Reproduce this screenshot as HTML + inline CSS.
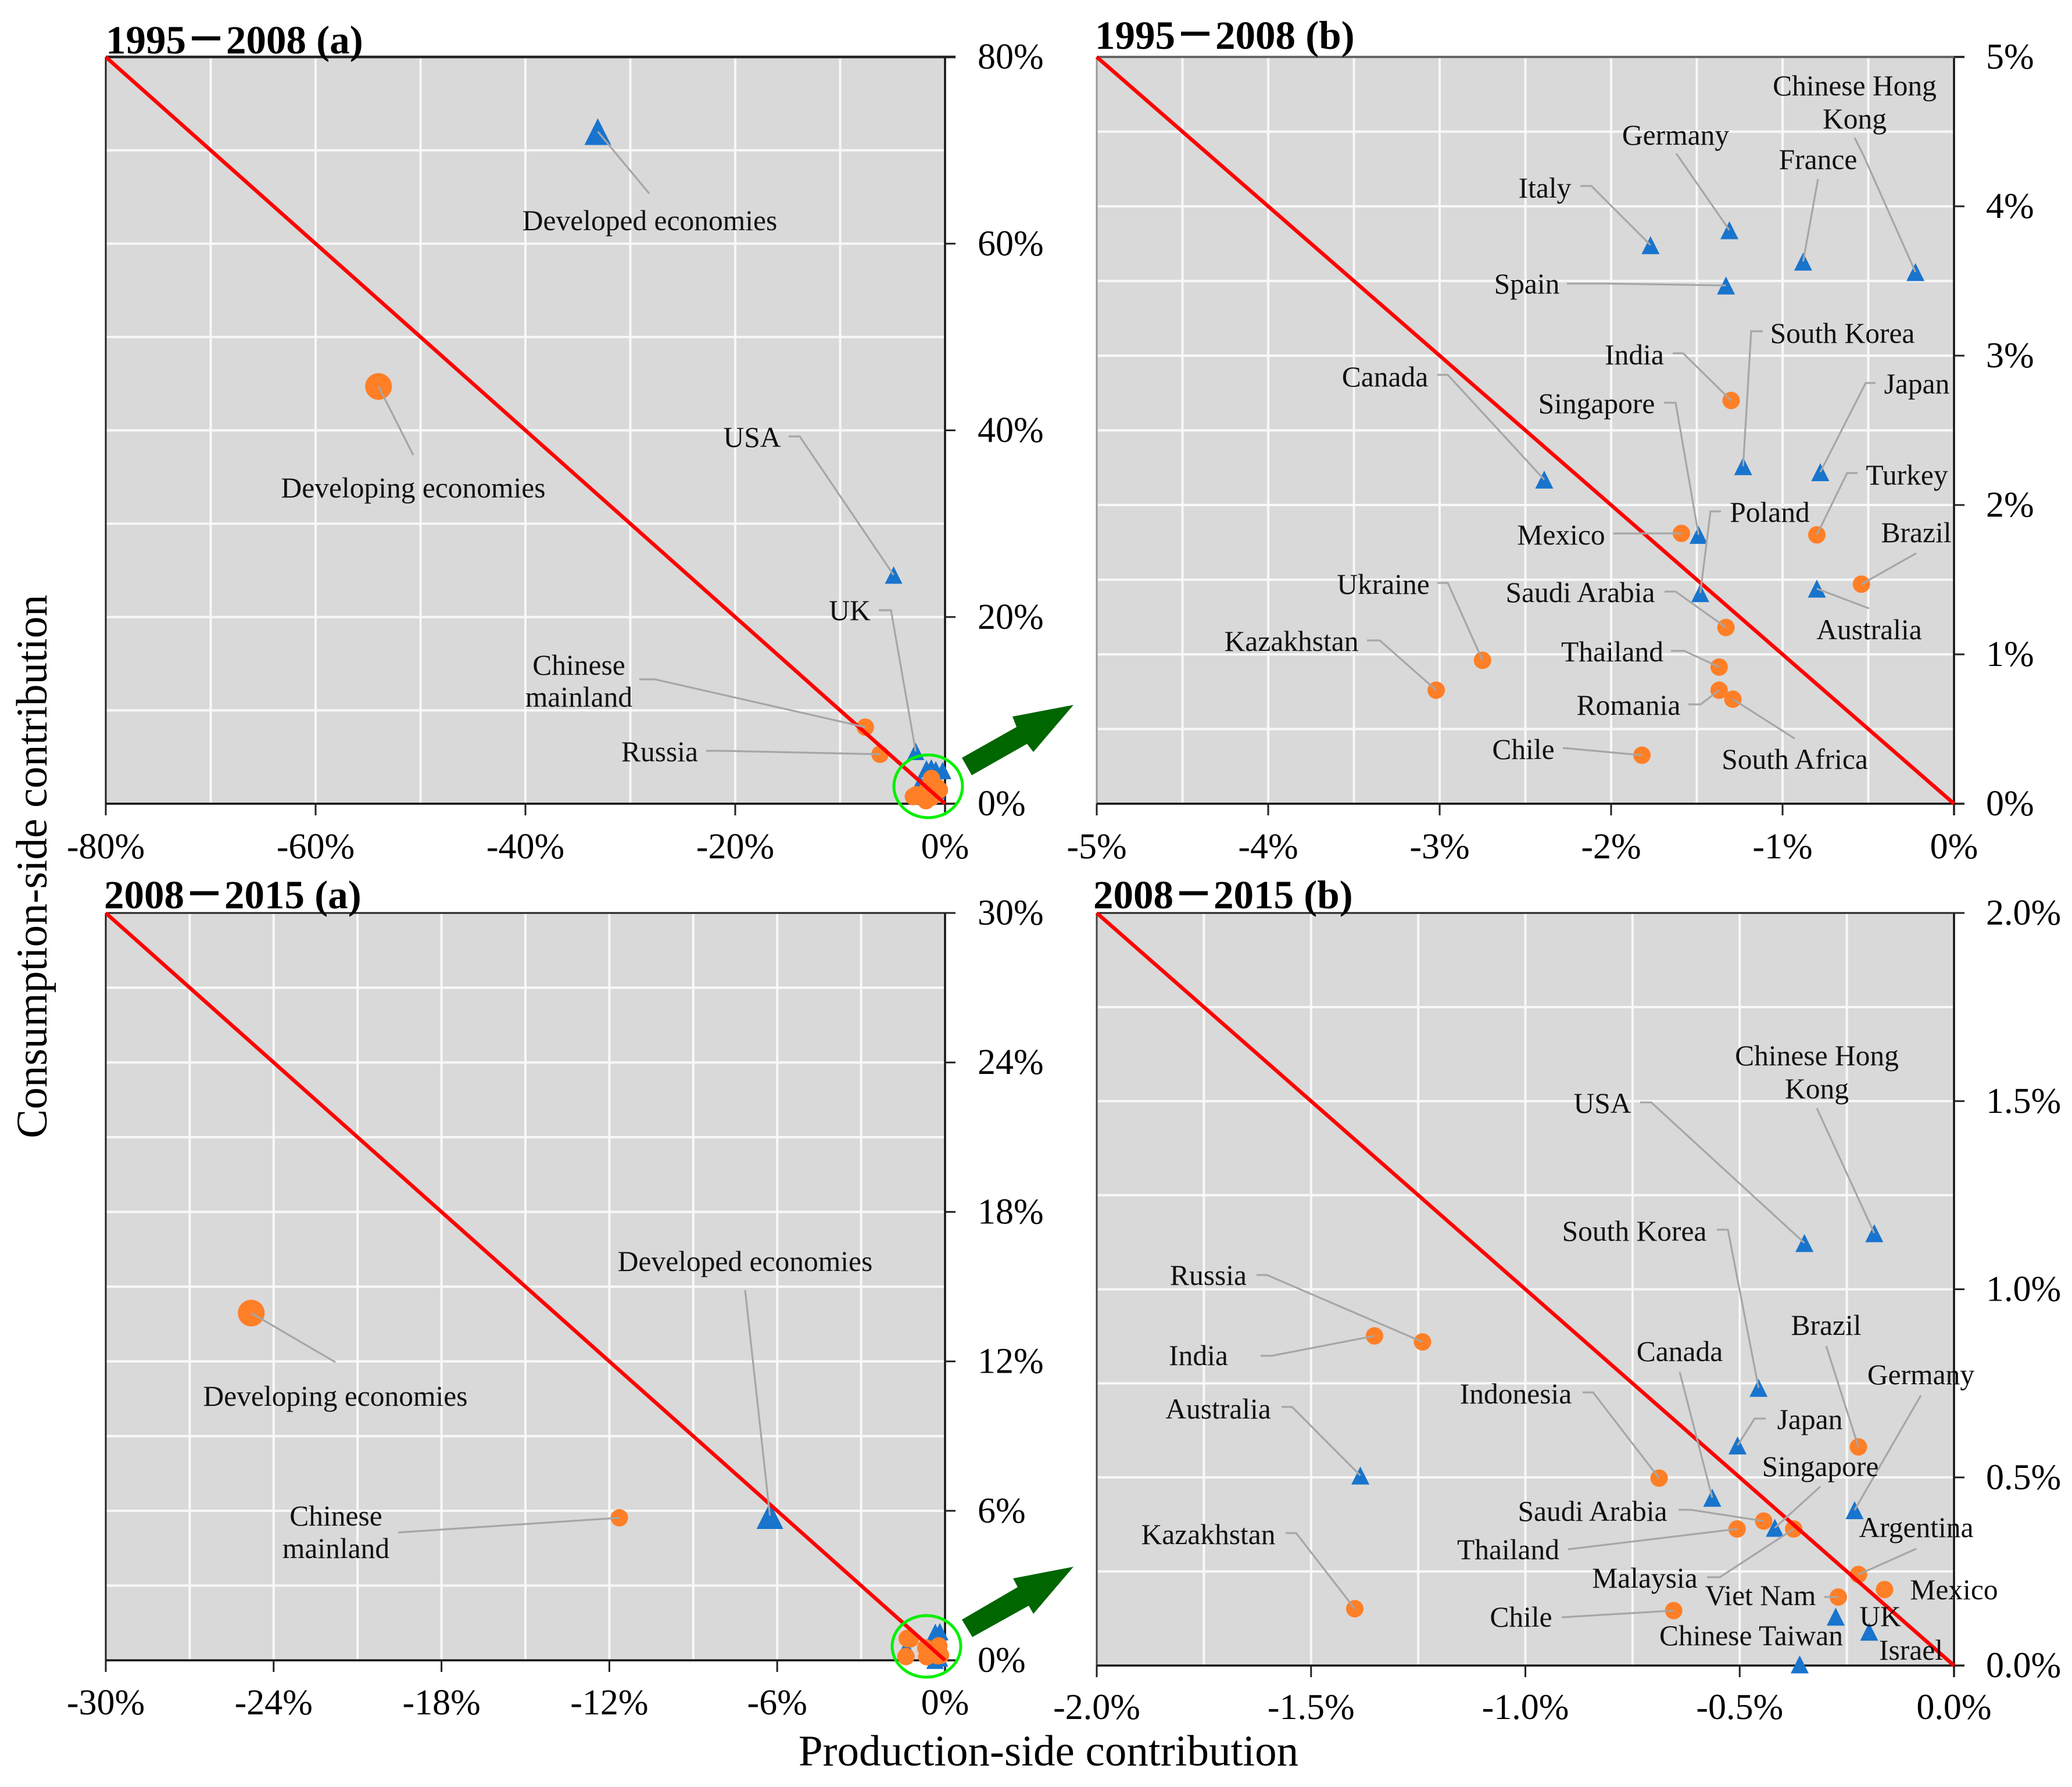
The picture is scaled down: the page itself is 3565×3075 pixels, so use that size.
<!DOCTYPE html>
<html lang="en">
<head>
<meta charset="utf-8">
<title>Production-side and consumption-side contribution</title>
<style>
html,body{margin:0;padding:0;background:#fff;width:3565px;height:3075px;overflow:hidden}
svg{display:block}
text{font-family:"Liberation Serif","Noto Serif CJK SC",serif;fill:#000}
.tick{font-size:62px}
.lab{font-size:49.5px;fill:#111}
.ttl{font-size:69px;font-weight:700}
.dash{font-family:"Noto Sans CJK SC","Liberation Sans",sans-serif;font-weight:700}
.axt{font-size:75px}
</style>
</head>
<body>
<svg id="chart" xmlns="http://www.w3.org/2000/svg" width="3565" height="3075" viewBox="0 0 3565 3075">
  <rect x="0" y="0" width="3565" height="3075" fill="#ffffff"/>
  <text class="axt" transform="translate(80 1491) rotate(-90)" text-anchor="middle">Consumption-side contribution</text>
  <text class="axt" x="1804" y="3038" text-anchor="middle">Production-side contribution</text>
</svg>
<script>
// ---- Chart data (values in percent) ----
const ticks95a = [-80, -60, -40, -20, 0];
const ticks95aY = [0, 20, 40, 60, 80];
const ticks95b = [-5, -4, -3, -2, -1, 0];
const ticks95bY = [0, 1, 2, 3, 4, 5];
const ticks08a = [-30, -24, -18, -12, -6, 0];
const ticks08aY = [0, 6, 12, 18, 24, 30];
const ticks08b = [-2, -1.5, -1, -0.5, 0];
const ticks08bY = [0, 0.5, 1, 1.5, 2];

const a95DevelopedNames = ['Developed economies', 'USA', 'UK'];
const a95DevelopedX = [-33.1, -4.9, -2.8];
const a95DevelopedY = [72, 24.5, 5.6];
const a95DevelopingNames = ['Developing economies', 'Chinese mainland', 'Russia'];
const a95DevelopingX = [-54, -7.6, -6.2];
const a95DevelopingY = [44.7, 8.2, 5.3];

const b95DevelopedNames = ['Italy', 'Germany', 'France', 'Chinese Hong Kong', 'Spain', 'South Korea', 'Japan', 'Canada', 'Singapore', 'Poland', 'Australia'];
const b95DevelopedX = [-1.77, -1.31, -0.88, -0.225, -1.33, -1.23, -0.78, -2.39, -1.49, -1.48, -0.8];
const b95DevelopedY = [3.74, 3.84, 3.63, 3.56, 3.47, 2.26, 2.22, 2.17, 1.8, 1.41, 1.44];
const b95DevelopingNames = ['India', 'Mexico', 'Turkey', 'Brazil', 'Saudi Arabia', 'Ukraine', 'Thailand', 'Romania', 'South Africa', 'Kazakhstan', 'Chile'];
const b95DevelopingX = [-1.3, -1.59, -0.8, -0.54, -1.33, -2.75, -1.37, -1.37, -1.29, -3.02, -1.82];
const b95DevelopingY = [2.7, 1.81, 1.8, 1.47, 1.18, 0.96, 0.915, 0.76, 0.7, 0.76, 0.325];

const a08DevelopedNames = ['Developed economies'];
const a08DevelopedX = [-6.26];
const a08DevelopedY = [5.81];
const a08DevelopingNames = ['Developing economies', 'Chinese mainland'];
const a08DevelopingX = [-24.8, -11.64];
const a08DevelopingY = [13.94, 5.72];

const b08DevelopedNames = ['Chinese Hong Kong', 'USA', 'South Korea', 'Japan', 'Australia', 'Canada', 'Germany', 'Singapore', 'UK', 'Israel', 'Chinese Taiwan'];
const b08DevelopedX = [-0.186, -0.349, -0.456, -0.505, -1.385, -0.564, -0.232, -0.418, -0.276, -0.198, -0.36];
const b08DevelopedY = [1.149, 1.123, 0.738, 0.585, 0.505, 0.446, 0.413, 0.366, 0.13, 0.09, 0.003];
const b08DevelopingNames = ['Russia', 'India', 'Brazil', 'Indonesia', 'Saudi Arabia', 'Thailand', 'Malaysia', 'Argentina', 'Mexico', 'Viet Nam', 'Kazakhstan', 'Chile'];
const b08DevelopingX = [-1.24, -1.352, -0.223, -0.688, -0.444, -0.506, -0.374, -0.223, -0.162, -0.27, -1.398, -0.654];
const b08DevelopingY = [0.86, 0.876, 0.581, 0.498, 0.384, 0.363, 0.363, 0.242, 0.202, 0.182, 0.151, 0.146];

// ---- Rendering helpers ----
const svg = document.getElementById('chart');
const NS = 'http://www.w3.org/2000/svg';
const aggregateNames = ['Developed economies', 'Developing economies'];

function slug(s) {
  return String(s).toLowerCase().replace(/[^a-z0-9.]+/g, '-');
}
function make(parent, tag, attrs, name) {
  const el = document.createElementNS(NS, tag);
  for (const k in attrs) el.setAttribute(k, attrs[k]);
  
  
  parent.appendChild(el);
  return el;
}
function makeText(parent, cls, x, y, anchor, str, name) {
  const t = make(parent, 'text', { class: cls, x: x, y: y, 'text-anchor': anchor }, name);
  t.textContent = str;
  return t;
}
function xScale(p, v) { return p.right + (v / p.span) * (p.right - p.left); }
function yScale(p, v) { return p.bottom - (v / p.span) * (p.bottom - p.top); }

function drawPanel(p) {
  const g = make(svg, 'g', {}, 'panel-' + p.id);
  make(g, 'rect', { x: p.left, y: p.top, width: p.right - p.left, height: p.bottom - p.top, fill: '#d9d9d9' }, 'plot-area-' + p.id);
  // white gridlines at major ticks and at half-steps between them
  const step = p.xTicks[1] - p.xTicks[0];
  for (let i = 0; i < p.xTicks.length - 1; i++) {
    [p.xTicks[i], p.xTicks[i] + step / 2].forEach(function (v) {
      if (v === p.xTicks[0]) return;
      const x = xScale(p, v);
      make(g, 'line', { x1: x, x2: x, y1: p.top, y2: p.bottom, stroke: '#f8f8f8', 'stroke-width': 4 }, 'vertical-gridline');
    });
  }
  const yStep = p.yTicks[1] - p.yTicks[0];
  for (let i = 0; i < p.yTicks.length - 1; i++) {
    [p.yTicks[i], p.yTicks[i] + yStep / 2].forEach(function (v) {
      if (v === 0) return;
      const y = yScale(p, v);
      make(g, 'line', { x1: p.left, x2: p.right, y1: y, y2: y, stroke: '#f8f8f8', 'stroke-width': 4 }, 'horizontal-gridline');
    });
  }
  // axes
  make(g, 'line', { x1: p.left, x2: p.left, y1: p.top, y2: p.bottom + 20, stroke: p.leftColor, 'stroke-width': 3 }, 'left-axis-line');
  make(g, 'line', { x1: p.right, x2: p.right, y1: p.top, y2: p.bottom + 20, stroke: '#111', 'stroke-width': 3.5 }, 'right-axis-line');
  make(g, 'line', { x1: p.left, x2: p.right + 18, y1: p.top, y2: p.top, stroke: p.topColor, 'stroke-width': p.topWidth }, 'top-axis-line');
  make(g, 'line', { x1: p.left, x2: p.right + 18, y1: p.bottom, y2: p.bottom, stroke: '#111', 'stroke-width': 3.5 }, 'bottom-axis-line');
  // ticks and tick labels
  p.xTicks.forEach(function (v) {
    const x = xScale(p, v);
    make(g, 'line', { x1: x, x2: x, y1: p.bottom, y2: p.bottom + 20, stroke: '#222', 'stroke-width': 3 }, 'x-tick');
    makeText(g, 'tick', x, p.bottom + p.xLabelDy, 'middle', v.toFixed(p.digits) + '%', 'x-tick-label');
  });
  p.yTicks.forEach(function (v) {
    const y = yScale(p, v);
    make(g, 'line', { x1: p.right, x2: p.right + 18, y1: y, y2: y, stroke: '#222', 'stroke-width': 3 }, 'y-tick');
    makeText(g, 'tick', p.yLabelX, y + 20, 'start', v.toFixed(p.digits) + '%', 'y-tick-label');
  });
  p.pos = {};
  p.g = g;
  // panel title: years joined by a heavy full-width dash
  const title = makeText(g, 'ttl', p.titleX, p.titleY, 'start', p.yearFrom, 'panel-title-' + p.id);
  const dash = make(title, 'tspan', { class: 'dash' }, 'panel-title-dash');
  dash.textContent = '－';
  title.appendChild(document.createTextNode(p.yearTo + ' ' + p.suffix));
}

function triangles(p, names, xs, ys, small, big) {
  names.forEach(function (n, i) {
    const x = xScale(p, xs[i]);
    const y = yScale(p, ys[i]);
    const s = aggregateNames.indexOf(n) >= 0 ? big : small;
    p.pos[n] = [x, y];
    make(p.g, 'polygon', { points: (x - s / 2) + ',' + (y + s / 2) + ' ' + x + ',' + (y - s / 2) + ' ' + (x + s / 2) + ',' + (y + s / 2), fill: '#1874cd' }, 'developed-marker-' + slug(n));
  });
}
function circles(p, names, xs, ys, small, big) {
  names.forEach(function (n, i) {
    const x = xScale(p, xs[i]);
    const y = yScale(p, ys[i]);
    const r = aggregateNames.indexOf(n) >= 0 ? big : small;
    p.pos[n] = [x, y];
    make(p.g, 'circle', { cx: x, cy: y, r: r, fill: '#ff7f27' }, 'developing-marker-' + slug(n));
  });
}
function redLine(p) {
  make(p.g, 'line', { x1: xScale(p, -p.span), y1: yScale(p, p.span), x2: xScale(p, 0), y2: yScale(p, 0), stroke: '#ff0000', 'stroke-width': 6.5 }, 'equal-contribution-line');
}
// annotate: label text (one line or two) at a page position, leader running through given bends to the named point
function annotate(p, name, lines, cx, base, route) {
  if (route) {
    const pt = p.pos[name];
    const pts = route.concat([pt]).map(function (q) { return q[0] + ',' + q[1]; }).join(' ');
    make(p.g, 'polyline', { points: pts, fill: 'none', stroke: '#a6a6a6', 'stroke-width': 3.2 }, 'leader-line-' + slug(name));
  }
  lines.forEach(function (l, i) {
    makeText(p.g, 'lab', cx, base[i], 'middle', l, 'label-' + slug(l));
  });
}

// ---- Panels ----
const panelA = { id: '1995-2008-a', yearFrom: '1995', yearTo: '2008', suffix: '(a)', titleX: 182, titleY: 92, left: 182, right: 1626, top: 98, bottom: 1383, span: 80, xTicks: ticks95a, yTicks: ticks95aY, digits: 0, xLabelDy: 94, yLabelX: 1682, topColor: '#222', topWidth: 4.5, leftColor: '#222' };
const panelB = { id: '1995-2008-b', yearFrom: '1995', yearTo: '2008', suffix: '(b)', titleX: 1884, titleY: 84, left: 1887, right: 3362, top: 98, bottom: 1383, span: 5, xTicks: ticks95b, yTicks: ticks95bY, digits: 0, xLabelDy: 94, yLabelX: 3417, topColor: '#666', topWidth: 4, leftColor: '#999' };
const panelC = { id: '2008-2015-a', yearFrom: '2008', yearTo: '2015', suffix: '(a)', titleX: 179, titleY: 1563, left: 182, right: 1626, top: 1571, bottom: 2857, span: 30, xTicks: ticks08a, yTicks: ticks08aY, digits: 0, xLabelDy: 93, yLabelX: 1682, topColor: '#222', topWidth: 3, leftColor: '#222' };
const panelD = { id: '2008-2015-b', yearFrom: '2008', yearTo: '2015', suffix: '(b)', titleX: 1881, titleY: 1563, left: 1887, right: 3362, top: 1571, bottom: 2866, span: 2, xTicks: ticks08b, yTicks: ticks08bY, digits: 1, xLabelDy: 92, yLabelX: 3417, topColor: '#222', topWidth: 3, leftColor: '#444' };

[panelA, panelB, panelC, panelD].forEach(drawPanel);

// Panel (a) 1995-2008: aggregates and large economies, plus the zoomed-in economies clustered at the origin
triangles(panelA, a95DevelopedNames, a95DevelopedX, a95DevelopedY, 30, 46);
triangles(panelA, b95DevelopedNames, b95DevelopedX, b95DevelopedY, 30, 46);
circles(panelA, b95DevelopingNames, b95DevelopingX, b95DevelopingY, 15, 23);
circles(panelA, a95DevelopingNames, a95DevelopingX, a95DevelopingY, 15, 23);
redLine(panelA);
annotate(panelA, 'Developed economies', ['Developed economies'], 1118, [396], [[1117, 333]]);
annotate(panelA, 'Developing economies', ['Developing economies'], 711, [856], [[711, 783]]);
annotate(panelA, 'USA', ['USA'], 1294, [769], [[1357, 751], [1376, 751]]);
annotate(panelA, 'UK', ['UK'], 1462, [1067], [[1512, 1050], [1533, 1050]]);
annotate(panelA, 'Chinese mainland', ['Chinese', 'mainland'], 996, [1161, 1216], [[1100, 1169], [1127, 1169]]);
annotate(panelA, 'Russia', ['Russia'], 1135, [1310], [[1215, 1292], [1242, 1292]]);

// Panel (b) 1995-2008
triangles(panelB, b95DevelopedNames, b95DevelopedX, b95DevelopedY, 31, 46);
circles(panelB, b95DevelopingNames, b95DevelopingX, b95DevelopingY, 15, 23);
redLine(panelB);
annotate(panelB, 'Chinese Hong Kong', ['Chinese Hong', 'Kong'], 3191, [164, 221], [[3191, 237], [3207, 269]]);
annotate(panelB, 'Germany', ['Germany'], 2883, [249], [[2884, 264]]);
annotate(panelB, 'France', ['France'], 3128, [291], [[3128, 308]]);
annotate(panelB, 'Italy', ['Italy'], 2658, [340], [[2719, 320], [2738, 320]]);
annotate(panelB, 'Spain', ['Spain'], 2627, [505], [[2696, 488], [2768, 488]]);
annotate(panelB, 'South Korea', ['South Korea'], 3170, [590], [[3033, 570], [3013, 570]]);
annotate(panelB, 'India', ['India'], 2812, [627], [[2878, 608], [2896, 608]]);
annotate(panelB, 'Japan', ['Japan'], 3298, [677], [[3227, 659], [3210, 659]]);
annotate(panelB, 'Canada', ['Canada'], 2383, [665], [[2473, 645], [2491, 645]]);
annotate(panelB, 'Singapore', ['Singapore'], 2747, [711], [[2863, 693], [2883, 693]]);
annotate(panelB, 'Turkey', ['Turkey'], 3281, [834], [[3196, 814], [3178, 814]]);
annotate(panelB, 'Poland', ['Poland'], 3045, [898], [[2961, 880], [2943, 880]]);
annotate(panelB, 'Mexico', ['Mexico'], 2686, [937], [[2776, 918]]);
annotate(panelB, 'Brazil', ['Brazil'], 3297, [933], [[3297, 952]]);
annotate(panelB, 'Ukraine', ['Ukraine'], 2380, [1022], [[2473, 1003], [2491, 1003]]);
annotate(panelB, 'Saudi Arabia', ['Saudi Arabia'], 2719, [1036], [[2864, 1018], [2883, 1018]]);
annotate(panelB, 'Australia', ['Australia'], 3216, [1100], [[3216, 1047]]);
annotate(panelB, 'Kazakhstan', ['Kazakhstan'], 2222, [1120], [[2352, 1102], [2374, 1102]]);
annotate(panelB, 'Thailand', ['Thailand'], 2774, [1138], [[2875, 1120], [2898, 1120]]);
annotate(panelB, 'Romania', ['Romania'], 2802, [1230], [[2905, 1212], [2926, 1212]]);
annotate(panelB, 'South Africa', ['South Africa'], 3088, [1323], [[3088, 1271]]);
annotate(panelB, 'Chile', ['Chile'], 2621, [1306], [[2689, 1287]]);

// Panel (a) 2008-2015
triangles(panelC, b08DevelopedNames, b08DevelopedX, b08DevelopedY, 30, 46);
triangles(panelC, a08DevelopedNames, a08DevelopedX, a08DevelopedY, 30, 46);
circles(panelC, b08DevelopingNames, b08DevelopingX, b08DevelopingY, 15, 23);
circles(panelC, a08DevelopingNames, a08DevelopingX, a08DevelopingY, 15, 23);
redLine(panelC);
annotate(panelC, 'Developing economies', ['Developing economies'], 577, [2419], [[577, 2344]]);
annotate(panelC, 'Chinese mainland', ['Chinese', 'mainland'], 578, [2625, 2681], [[685, 2637]]);
annotate(panelC, 'Developed economies', ['Developed economies'], 1282, [2187], [[1282, 2220]]);

// Panel (b) 2008-2015
triangles(panelD, b08DevelopedNames, b08DevelopedX, b08DevelopedY, 31, 46);
circles(panelD, b08DevelopingNames, b08DevelopingX, b08DevelopingY, 15, 23);
redLine(panelD);
annotate(panelD, 'Chinese Hong Kong', ['Chinese Hong', 'Kong'], 3126, [1833, 1890], [[3126, 1907]]);
annotate(panelD, 'USA', ['USA'], 2757, [1915], [[2822, 1897], [2841, 1897]]);
annotate(panelD, 'South Korea', ['South Korea'], 2812, [2135], [[2954, 2116], [2973, 2116]]);
annotate(panelD, 'Russia', ['Russia'], 2079, [2211], [[2162, 2194], [2180, 2194]]);
annotate(panelD, 'India', ['India'], 2062, [2349], [[2169, 2333], [2188, 2333]]);
annotate(panelD, 'Brazil', ['Brazil'], 3142, [2297], [[3142, 2316]]);
annotate(panelD, 'Canada', ['Canada'], 2890, [2342], [[2890, 2361]]);
annotate(panelD, 'Germany', ['Germany'], 3305, [2382], [[3305, 2401]]);
annotate(panelD, 'Indonesia', ['Indonesia'], 2608, [2415], [[2723, 2396], [2741, 2396]]);
annotate(panelD, 'Australia', ['Australia'], 2096, [2441], [[2205, 2421], [2223, 2421]]);
annotate(panelD, 'Japan', ['Japan'], 3114, [2459], [[3038, 2441], [3019, 2441]]);
annotate(panelD, 'Singapore', ['Singapore'], 3132, [2540], [[3132, 2558]]);
annotate(panelD, 'Saudi Arabia', ['Saudi Arabia'], 2740, [2617], [[2888, 2598], [2909, 2598]]);
annotate(panelD, 'Kazakhstan', ['Kazakhstan'], 2079, [2657], [[2212, 2638], [2230, 2638]]);
annotate(panelD, 'Thailand', ['Thailand'], 2595, [2683], [[2698, 2666]]);
annotate(panelD, 'Argentina', ['Argentina'], 3297, [2645], [[3297, 2665]]);
annotate(panelD, 'Malaysia', ['Malaysia'], 2830, [2732], [[2937, 2714], [2959, 2714]]);
annotate(panelD, 'Viet Nam', ['Viet Nam'], 3029, [2762], [[3139, 2748]]);
annotate(panelD, 'Chile', ['Chile'], 2617, [2799], [[2687, 2783]]);
annotate(panelD, 'Mexico', ['Mexico'], 3362, [2752], null);
annotate(panelD, 'UK', ['UK'], 3235, [2798], null);
annotate(panelD, 'Chinese Taiwan', ['Chinese Taiwan'], 3013, [2831], null);
annotate(panelD, 'Israel', ['Israel'], 3288, [2856], null);

// ---- Call-outs linking the (a) panels to the (b) panels ----
make(svg, 'ellipse', { cx: 1597, cy: 1353, rx: 59, ry: 54, fill: 'none', stroke: '#00f000', 'stroke-width': 5 }, 'highlight-ring-1995-2008');
make(svg, 'ellipse', { cx: 1594, cy: 2833, rx: 59, ry: 53, fill: 'none', stroke: '#00f000', 'stroke-width': 5 }, 'highlight-ring-2008-2015');
make(svg, 'polygon', { points: '1655,1304 1672,1334 1767,1280 1778,1294 1847,1213 1742,1233 1749,1251', fill: '#006600' }, 'zoom-arrow-1995-2008');
make(svg, 'polygon', { points: '1655,2787 1673,2817 1770,2763 1778,2777 1847,2696 1743,2716 1751,2731', fill: '#006600' }, 'zoom-arrow-2008-2015');
</script>
</body>
</html>
